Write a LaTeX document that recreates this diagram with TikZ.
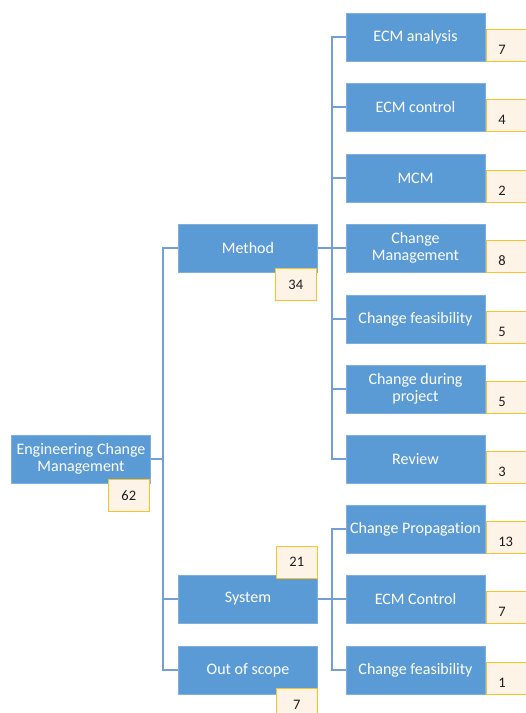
\documentclass[tikz,border=0pt]{standalone}
\usepackage{fontspec}
\setmainfont[Ligatures={NoCommon}]{Carlito}
\usetikzlibrary{backgrounds}
\definecolor{boxblue}{RGB}{91,155,213}
\definecolor{boxedge}{RGB}{125,175,225}
\definecolor{linkblue}{RGB}{115,160,212}
\definecolor{badgefill}{RGB}{253,243,231}
\definecolor{badgeedge}{RGB}{250,195,40}
\definecolor{badgetext}{RGB}{30,30,30}
\begin{document}
\begin{tikzpicture}[x=1pt,y=-1pt,
  catbox/.style={rectangle, fill=boxblue, draw=boxedge, line width=0.6pt,
    minimum width=139pt, minimum height=48pt, inner sep=1pt, align=center,
    text=white, font=\fontsize{16}{17.5}\selectfont},
  badge/.style={rectangle, fill=badgefill, draw=badgeedge, line width=1pt,
    minimum width=41pt, minimum height=32pt, inner sep=0pt,
    text=badgetext, font=\fontsize{14.5}{16}\selectfont},
  leafbadge/.style={badge, text width=17pt, align=left, text height=18pt, text depth=0pt},
  conn/.style={draw=linkblue, line width=1.6pt}]
\useasboundingbox (0,0) rectangle (526,713);

% trunk lines of the tree
\coordinate (trunkA) at (163,0);
\coordinate (trunkB) at (332,0);

% category boxes
\node[catbox] (root)   at (81,459)  {Engineering Change\\Management};
\node[catbox] (method) at (248,248) {Method};
\node[catbox] (system) at (248,599) {System};
\node[catbox] (scope)  at (248,670) {Out of scope};

% leaf boxes
\node[catbox] (ecma) at (415.5,37)  {ECM analysis};
\node[catbox] (ecmc) at (415.5,107) {ECM control};
\node[catbox] (mcm)  at (415.5,178) {MCM};
\node[catbox] (chm)  at (415.5,248) {Change\\Management};
\node[catbox] (chf)  at (415.5,319) {Change feasibility};
\node[catbox] (chp)  at (415.5,389) {Change during\\project};
\node[catbox] (rev)  at (415.5,459) {Review};
\node[catbox] (prop) at (415.5,529) {Change Propagation};
\node[catbox] (sysc) at (415.5,599) {ECM Control};
\node[catbox] (sysf) at (415.5,670) {Change feasibility};

% connectors, kept behind the boxes
\begin{scope}[on background layer]
\draw[conn] (root.east) -- (trunkA |- root.east);
\draw[conn] (method.west) -- (trunkA |- method.west) -- (trunkA |- scope.west) -- (scope.west);
\draw[conn] (system.west) -- (trunkA |- system.west);

\draw[conn] (method.east) -- (trunkB |- method.east);
\draw[conn] (ecma.west) -- (trunkB |- ecma.west) -- (trunkB |- rev.west) -- (rev.west);
\foreach \n in {ecmc,mcm,chm,chf,chp}
  \draw[conn] (\n.west) -- (trunkB |- \n.west);

\draw[conn] (system.east) -- (trunkB |- system.east);
\draw[conn] (prop.west) -- (trunkB |- prop.west) -- (trunkB |- sysf.west) -- (sysf.west);
\draw[conn] (sysc.west) -- (trunkB |- sysc.west);
\end{scope}

% count badges of the categories
\node[badge, anchor=north east] (nroot)   at ([shift={(-1,-4)}]root.south east)   {62};
\node[badge, anchor=north east] (nmethod) at ([shift={(-1,-4)}]method.south east) {34};
\node[badge, anchor=south east] (nsystem) at ([shift={(0,4)}]system.north east)   {21};
\node[badge, anchor=north east] (nscope)  at ([shift={(0,-6)}]scope.south east)   {7};

% count badges of the leaves
\node[leafbadge, anchor=south west] (necma) at ([shift={(0.5,1)}]ecma.south east) {7};
\node[leafbadge, anchor=south west] (necmc) at ([shift={(0.5,1)}]ecmc.south east) {4};
\node[leafbadge, anchor=south west] (nmcm)  at ([shift={(0.5,1)}]mcm.south east)  {2};
\node[leafbadge, anchor=south west] (nchm)  at ([shift={(0.5,1)}]chm.south east)  {8};
\node[leafbadge, anchor=south west] (nchf)  at ([shift={(0.5,1)}]chf.south east)  {5};
\node[leafbadge, anchor=south west] (nchp)  at ([shift={(0.5,1)}]chp.south east)  {5};
\node[leafbadge, anchor=south west] (nrev)  at ([shift={(0.5,1)}]rev.south east)  {3};
\node[leafbadge, anchor=south west] (nprop) at ([shift={(0.5,1)}]prop.south east) {13};
\node[leafbadge, anchor=south west] (nsysc) at ([shift={(0.5,1)}]sysc.south east) {7};
\node[leafbadge, anchor=south west] (nsysf) at ([shift={(0.5,1)}]sysf.south east) {1};
\end{tikzpicture}
\end{document}
